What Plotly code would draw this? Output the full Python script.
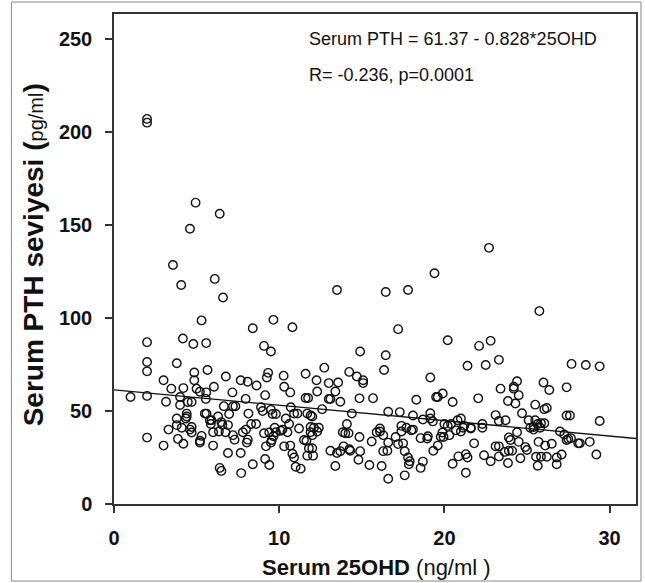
import plotly.graph_objects as go

# Serum 25OHD (ng/ml) values
x_vals = [
    2.0, 2.0, 4.94, 4.6, 6.4, 3.57, 4.07, 6.1, 6.6, 5.3, 9.65, 8.4, 10.8, 13.5, 16.45, 17.8, 17.2, 19.4, 22.7, 25.75,
    20.2, 22.1, 22.8, 22.5, 23.3,
    2.0, 4.17, 4.8, 5.58, 9.08, 9.5, 14.9, 16.45,
    2.0, 2.0, 3.8, 4.86, 5.66, 6.77, 9.25, 9.33, 10.27, 11.6, 12.73, 14.24, 14.7, 15.08, 15.08, 16.35, 19.15, 21.4,
    27.7, 28.56, 29.4, 3.0, 4.86, 7.67, 8.09, 12.26, 13.0, 13.57, 24.4, 26.0,
    3.47, 4.2, 5.0, 6.05, 8.63, 10.3, 10.67, 11.6, 12.3, 13.4, 13.0, 13.1, 13.7, 14.86, 15.68, 18.3, 19.5, 19.6, 19.9,
    20.5, 22.05, 23.4, 24.2, 24.5, 24.2, 23.85, 24.3, 26.35, 27.4, 1.0, 2.0, 3.15, 4.0, 4.47, 4.7, 5.2, 5.58, 5.56,
    7.17, 7.97, 9.15, 11.75,
    25.5, 26.2, 26.05, 4.0, 6.65, 7.2, 7.35, 6.97, 8.14, 5.5, 5.6, 4.4, 4.35, 3.8, 9.0, 9.5, 9.6, 9.8, 10.9, 11.1,
    10.4, 11.7, 11.9, 14.4, 16.6, 17.3, 18.1, 19.15, 19.15, 23.1, 24.7, 27.4, 27.6, 29.4, 23.7, 23.3, 25.1, 25.5,
    21.0, 20.8, 19.3, 18.7, 12.6, 12.0, 8.9, 6.3, 5.9, 5.8, 10.7,
    25.65, 25.85, 26.05, 25.2, 25.4, 25.8, 22.3, 22.3, 21.2, 20.4, 20.2, 20.0, 17.7, 17.4, 17.4, 18.0, 21.6, 3.3,
    3.8, 4.1, 4.4, 4.6, 4.7, 4.7, 5.3, 5.86, 6.0, 6.35, 6.5, 6.56, 6.9, 6.75, 7.2, 7.8, 7.99, 8.3, 8.6, 9.08, 9.4,
    9.65, 9.73, 9.8, 10.1, 10.2, 10.5, 10.6, 11.2, 11.9, 11.9, 12.1, 12.3, 12.4, 13.85, 14.0, 14.1, 14.2, 14.86,
    15.9, 16.1, 16.1, 16.3, 17.05, 18.1, 18.56, 18.96, 19.0, 19.78, 19.88, 19.95, 20.3, 20.7, 21.0, 21.14, 21.6,
    23.9, 24.4, 25.4, 27.0, 27.26, 27.66, 2.0, 3.87, 5.2, 12.0, 11.5, 11.65, 9.55, 28.8,
    3.0, 4.2, 5.2, 6.0, 6.9, 6.4, 6.5, 7.3, 7.67, 7.7, 8.04, 8.1, 8.4, 9.15, 9.2, 9.4, 9.5, 10.3, 10.67, 10.8, 10.9,
    11.0, 11.3, 11.7, 11.8, 12.0, 12.05, 13.1, 13.4, 13.5, 13.7, 13.9, 14.25, 14.3, 14.9, 14.8, 15.46, 15.6, 16.2,
    16.3, 16.55, 16.6, 16.6, 17.2, 17.5, 17.6, 17.6, 17.8, 17.85, 17.9, 18.56, 18.7, 19.33, 19.6, 20.5, 20.85, 21.3,
    21.3, 21.4, 21.8, 22.4, 22.8, 23.1, 23.3, 23.3, 23.65, 23.85, 23.9, 24.0, 24.1, 24.5, 24.6, 24.9, 25.0, 25.55,
    25.65, 25.7, 25.85, 26.1, 26.2, 26.5, 26.8, 26.8, 27.1, 27.4, 28.1, 28.2, 29.2, 27.5,
]

# Serum PTH (pg/ml) values
y_vals = [
    207, 205, 162, 148, 156, 128.5, 117.7, 121, 111, 98.7, 99, 94.5, 95, 115, 114, 115, 94, 124, 137.7, 103.7,
    88, 85, 87.7, 74.7, 77.5,
    87, 89, 86, 86.5, 85, 82, 82, 80,
    76.3, 71.3, 75.7, 70.7, 72, 68.5, 68, 70.5, 69, 70, 73.3, 71, 68.5, 66.5, 65, 72, 68, 74.3,
    75.3, 74.7, 74, 66.5, 66.5, 66.5, 65.7, 66.5, 65, 65.3, 66, 65.3,
    62, 62.3, 62, 63, 63.7, 63, 60, 57, 60.5, 60.5, 56.5, 56.5, 55, 56.8, 56.9, 56, 57.5, 57.5, 59.4,
    54.8, 56.8, 62, 63, 58.5, 62, 55.4, 54, 61.3, 62.7, 57.5, 58.1, 55, 57.5, 54.8, 54.8, 60.3, 60, 56.5,
    60, 56.5, 58.5, 57,
    53.4, 51.6, 51, 53.2, 52.6, 52.6, 52.5, 48.4, 48.6, 48.6, 48.6, 48.6, 46, 46, 50, 50.6, 48.4, 48.4, 48.6, 48.6,
    46, 48.6, 47.6, 48.6, 49.6, 49.4, 47.6, 48.8, 46, 47.8, 48.8, 47.6, 47.6, 44.6, 45, 44.6, 45, 45,
    46, 45, 44.4, 45.4, 51, 47, 52, 47, 45, 45, 52,
    43, 43.4, 43.4, 41, 41.4, 41, 43, 41, 42, 43, 42, 43, 41, 42, 39, 39.6, 41, 40,
    42.4, 41, 47, 40, 38.4, 41.4, 36.6, 43, 38.6, 39, 44, 42.6, 42.4, 38.6, 37, 38.6, 40, 43, 43, 38, 38.4,
    36.4, 41, 38.6, 39.4, 40, 38.6, 43, 40.6, 41.4, 38.6, 41, 39, 41, 38.6, 38, 43, 38, 36,
    38.6, 39, 40.6, 37, 36, 40, 35.4, 35.2, 36.4, 36.2, 38.4, 36, 37, 39.6, 39, 41, 40.6,
    35.8, 38.6, 40, 39, 37.4, 35.4, 35.7, 35, 34, 37, 34.4, 34, 34.4, 33.4,
    31.4, 32.4, 33, 31.4, 27.4, 19.4, 17.8, 34.6, 27.4, 16.6, 33, 34.6, 21.4, 24.2, 31, 21, 33, 31, 31.4, 27, 25,
    20, 19, 26, 30, 30, 26, 28.6, 20.4, 27.4, 28.4, 31, 29.4, 28.6, 28.4, 23.8, 21, 33.6, 20.4,
    28.4, 28.6, 13.6, 33, 32.2, 32.6, 15.4, 28.4, 25, 21.4, 23, 19.4, 22.8, 28.6, 31.4, 21.6, 25.6, 26.8,
    16.8, 25, 32.6, 26.2, 23, 31, 31, 25.6, 28, 22, 28.6, 34.4, 28.6, 33.4, 24.6, 30.6, 29, 25.4,
    20.6, 33.4, 25.4, 31.4, 25.4, 32.4, 25, 21.4, 26.6, 34.4, 32.6, 32.6, 26.6, 35,
]

# regression: Serum PTH = 61.37 - 0.828*25OHD
reg_intercept = 61.37
reg_slope = -0.828
x_range = [0, 31.6]
reg_x = [x_range[0], x_range[1]]
reg_y = [reg_intercept + reg_slope * v for v in reg_x]

x_ticks = [0, 10, 20, 30]
y_ticks = [0, 50, 100, 150, 200, 250]

FONT = "Liberation Sans, Arial, sans-serif"
W, H = 645, 583
ML, MR, MT, MB = 114, 7, 14, 79
PW, PH = W - ML - MR, H - MT - MB


def px_to_paper_x(px):
    return (px - ML) / PW


def px_to_paper_y(py):
    return (H - MB - py) / PH


fig = go.Figure()
fig.add_trace(go.Scatter(
    x=x_vals, y=y_vals, mode="markers",
    marker=dict(symbol="circle-open", size=8.5, color="#111", line=dict(width=1.4, color="#111")),
    showlegend=False, hoverinfo="x+y",
))
fig.add_trace(go.Scatter(
    x=reg_x, y=reg_y, mode="lines",
    line=dict(color="#111", width=1.3), showlegend=False, hoverinfo="skip",
))

axis_common = dict(
    showgrid=False, zeroline=False, showline=True, linecolor="#333", linewidth=1.5,
    mirror=True, ticks="outside", ticklen=7, tickwidth=1.5, tickcolor="#333",
    tickfont=dict(family=FONT, size=20, color="#111", weight="bold"),
)

fig.update_layout(
    width=W, height=H,
    margin=dict(l=ML, r=MR, t=MT, b=MB),
    paper_bgcolor="white", plot_bgcolor="white",
    font=dict(family=FONT, color="#111"),
    xaxis=dict(range=x_range, tickvals=x_ticks, ticklabelstandoff=8, **axis_common),
    yaxis=dict(range=[0, 263.4], tickvals=y_ticks, ticklabelstandoff=9, **axis_common),
    annotations=[
        dict(text="Serum PTH = 61.37 - 0.828*25OHD", xref="paper", yref="paper",
             x=px_to_paper_x(308), y=px_to_paper_y(39), xanchor="left", yanchor="middle",
             showarrow=False, font=dict(family=FONT, size=18, color="#111")),
        dict(text="R= -0.236, p=0.0001", xref="paper", yref="paper",
             x=px_to_paper_x(308), y=px_to_paper_y(74.5), xanchor="left", yanchor="middle",
             showarrow=False, font=dict(family=FONT, size=18, color="#111")),
        dict(text="<b>Serum PTH seviyesi (</b><span style='font-size:20px'>pg/ml</span><b>)</b>",
             xref="paper", yref="paper", x=px_to_paper_x(33), y=px_to_paper_y(255),
             xanchor="center", yanchor="middle", textangle=-90,
             showarrow=False, font=dict(family=FONT, size=28, color="#111")),
        dict(text="<b>Serum 25OHD</b> (ng/ml )", xref="paper", yref="paper",
             x=px_to_paper_x(378), y=px_to_paper_y(567), xanchor="center", yanchor="middle",
             showarrow=False, font=dict(family=FONT, size=22, color="#111")),
    ],
    shapes=[
        dict(type="rect", xref="paper", yref="paper",
             x0=px_to_paper_x(11), x1=px_to_paper_x(643),
             y0=px_to_paper_y(581), y1=px_to_paper_y(2),
             line=dict(color="#888", width=1), fillcolor="rgba(0,0,0,0)", layer="below"),
    ],
)

fig.write_html("out.html", config={"displayModeBar": False},
               post_script="document.body.style.margin='0px';")
